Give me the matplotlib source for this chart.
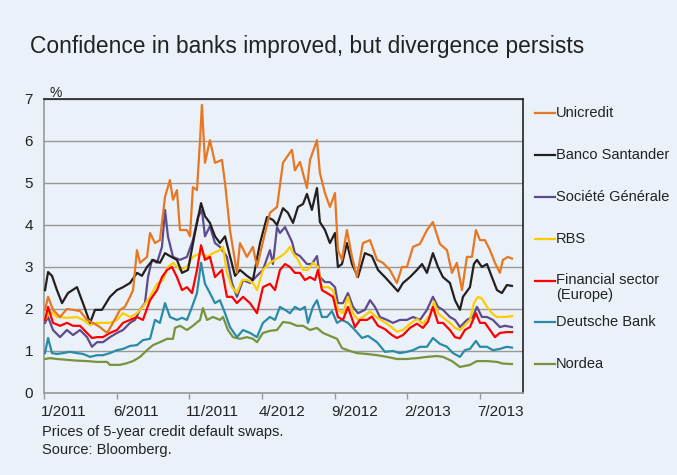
import matplotlib
matplotlib.use("Agg")
import matplotlib.pyplot as plt
from matplotlib.lines import Line2D
from matplotlib.transforms import ScaledTranslation

plt.rcParams['font.family'] = ['Liberation Sans', 'DejaVu Sans']

# x = months since 1 Jan 2011, y = CDS price (%)
unicredit = [(0.07,1.98),(0.28,2.29),(0.62,1.98),(1.10,1.81),(1.58,2.0),(2.00,1.98),(2.48,1.95),(2.96,1.74),(3.37,1.67),(3.85,1.57),
             (4.34,1.43),(4.75,1.67),(5.23,1.98),(5.57,2.05),(5.92,2.29),(6.13,2.45),(6.40,3.4),(6.61,3.1),(7.09,3.24),(7.30,3.81),
             (7.64,3.57),(7.98,3.64),(8.33,4.67),(8.67,5.07),(8.88,4.6),(9.15,4.83),(9.36,3.88),(9.84,3.88),(10.05,3.73),(10.25,4.9),
             (10.53,4.83),(10.74,6.02),(10.87,6.86),(11.08,5.48),(11.42,6.02),(11.77,5.48),(12.25,5.55),(12.46,5.0),(12.80,3.88),(13.28,2.86),
             (13.49,3.57),(13.97,3.24),(14.38,3.48),(14.66,3.0),(15.07,3.6),(15.55,4.29),(16.04,4.43),(16.45,5.48),(16.72,5.62),(17.07,5.79),
             (17.27,5.3),(17.62,5.5),(18.10,4.88),(18.31,5.55),(18.79,6.02),(18.99,5.24),(19.34,4.76),(19.68,4.43),(20.03,4.76),(20.23,3.4),
             (20.51,3.17),(20.85,3.88),(21.20,3.24),(21.54,2.76),(21.95,3.57),(22.44,3.64),(22.92,3.17),(23.33,3.1),(23.81,2.93),(24.29,2.62),
             (24.64,3.0),(24.98,3.0),(25.40,3.48),(25.88,3.55),(26.36,3.88),(26.77,4.07),(27.25,3.55),(27.74,3.4),(28.08,2.86),(28.42,3.1),
             (28.77,2.45),(29.11,3.24),(29.46,3.24),(29.73,3.88),(30.01,3.64),(30.35,3.64),(30.70,3.4),(31.04,3.1),(31.38,2.86),(31.59,3.17),
             (31.93,3.24),(32.21,3.2)]

santander = [(0.07,2.45),(0.28,2.88),(0.55,2.79),(0.89,2.45),(1.24,2.14),(1.65,2.38),(2.27,2.52),(2.68,2.14),(3.17,1.67),(3.51,1.98),
             (3.99,1.98),(4.54,2.29),(5.02,2.45),(5.44,2.52),(5.92,2.62),(6.40,2.86),(6.74,2.79),(7.09,3.0),(7.50,3.17),(7.98,3.1),
             (8.33,3.33),(8.67,3.26),(9.15,3.17),(9.50,2.86),(9.91,2.93),(10.39,3.81),(10.81,4.52),(11.08,4.21),(11.42,4.05),(11.77,3.73),
             (12.11,3.57),(12.46,3.73),(12.80,3.26),(13.15,2.79),(13.49,2.93),(13.97,2.79),(14.38,2.69),(14.87,3.57),(15.35,4.19),(15.76,4.12),
             (16.04,4.0),(16.45,4.4),(16.79,4.29),(17.14,4.05),(17.48,4.43),(17.83,4.5),(18.10,4.74),(18.44,4.36),(18.79,4.88),(18.99,4.07),
             (19.34,3.88),(19.68,3.57),(20.03,3.81),(20.23,3.0),(20.51,3.07),(20.85,3.57),(21.20,3.07),(21.61,2.76),(22.09,3.33),(22.57,3.26),
             (22.99,2.93),(23.47,2.76),(24.02,2.55),(24.36,2.42),(24.71,2.62),(25.19,2.76),(25.67,2.93),(26.02,3.07),(26.36,2.86),(26.77,3.33),
             (27.12,3.0),(27.46,2.76),(27.94,2.62),(28.29,2.21),(28.63,1.98),(28.84,2.29),(29.32,2.52),(29.59,3.07),(29.80,3.17),(30.14,3.0),
             (30.49,3.07),(30.83,2.76),(31.18,2.45),(31.52,2.38),(31.86,2.57),(32.21,2.55)]

societe_generale = [(0.07,1.67),(0.28,1.81),(0.62,1.5),(1.10,1.33),(1.58,1.5),(2.00,1.38),(2.48,1.5),(2.96,1.33),(3.30,1.1),(3.65,1.21),
             (4.06,1.21),(4.54,1.33),(5.02,1.43),(5.44,1.5),(5.92,1.67),(6.26,1.74),(6.61,1.98),(6.95,2.14),(7.16,2.76),(7.43,3.17),
             (7.78,3.1),(8.12,3.48),(8.33,4.36),(8.53,3.73),(8.88,3.24),(9.36,3.17),(9.84,3.24),(10.25,3.64),(10.60,4.19),(10.87,4.36),
             (11.08,3.73),(11.42,3.97),(11.77,3.57),(12.11,3.48),(12.59,3.24),(12.94,2.62),(13.28,2.29),(13.70,2.69),(14.18,2.62),(14.66,2.79),
             (15.07,2.93),(15.55,3.4),(15.76,3.07),(16.04,3.95),(16.24,3.81),(16.59,3.95),(17.07,3.6),(17.27,3.33),(17.62,3.26),(18.10,3.07),
             (18.44,3.07),(18.79,3.26),(18.99,2.76),(19.34,2.64),(19.68,2.64),(20.03,2.52),(20.23,2.14),(20.58,2.14),(20.92,2.38),(21.27,2.05),
             (21.61,1.9),(22.09,1.98),(22.44,2.21),(22.78,2.05),(23.12,1.81),(23.61,1.74),(24.02,1.67),(24.50,1.74),(24.98,1.74),(25.40,1.81),
             (25.88,1.74),(26.36,1.98),(26.77,2.29),(27.12,2.05),(27.46,1.98),(27.94,1.81),(28.29,1.74),(28.63,1.57),(29.11,1.74),(29.52,1.81),
             (29.80,2.05),(30.14,1.81),(30.49,1.81),(30.90,1.74),(31.38,1.57),(31.73,1.6),(32.21,1.57)]

rbs = [(0.07,1.74),(0.41,1.95),(0.89,1.81),(1.58,1.79),(2.27,1.81),(2.68,1.74),(3.17,1.62),(3.65,1.67),(4.06,1.67),(4.54,1.67),
       (5.02,1.74),(5.44,1.9),(5.92,1.81),(6.40,1.9),(6.81,2.05),(7.30,2.29),(7.78,2.6),(8.19,2.69),(8.53,3.0),(8.88,3.1),
       (9.36,2.93),(9.84,3.0),(10.25,3.24),(10.74,3.33),(11.22,3.24),(11.63,3.33),(12.11,3.4),(12.32,3.48),(12.59,2.86),(12.94,2.52),
       (13.28,2.38),(13.63,2.69),(13.97,2.69),(14.38,2.62),(14.66,2.45),(15.07,2.93),(15.55,3.1),(15.90,3.17),(16.24,3.24),(16.59,3.33),
       (16.93,3.48),(17.14,3.33),(17.48,3.17),(17.83,2.93),(18.17,2.93),(18.51,3.1),(18.86,3.0),(19.13,2.52),(19.55,2.52),(19.89,2.45),
       (20.23,1.98),(20.58,1.9),(20.92,2.29),(21.27,1.9),(21.61,1.74),(21.95,1.81),(22.44,1.94),(22.92,1.8),(23.33,1.71),(23.81,1.6),
       (24.29,1.46),(24.71,1.5),(25.19,1.65),(25.67,1.76),(26.08,1.65),(26.57,1.85),(26.84,2.17),(27.12,1.9),(27.46,1.8),(27.94,1.67),
       (28.29,1.55),(28.63,1.5),(28.97,1.62),(29.32,1.74),(29.59,2.14),(29.87,2.29),(30.14,2.25),(30.49,2.05),(30.83,1.9),(31.18,1.81),
       (31.73,1.81),(32.21,1.83)]

financial_sector = [(0.07,1.74),(0.28,2.05),(0.62,1.67),(1.10,1.6),(1.58,1.67),(2.00,1.6),(2.48,1.6),(2.96,1.43),(3.30,1.31),(3.65,1.33),
       (4.06,1.33),(4.54,1.43),(5.02,1.5),(5.44,1.67),(5.92,1.74),(6.40,1.81),(6.81,1.74),(7.30,2.21),(7.78,2.45),(8.12,2.76),
       (8.47,2.93),(8.81,3.0),(9.15,2.76),(9.50,2.45),(9.84,2.52),(10.19,2.38),(10.53,2.93),(10.81,3.52),(11.08,3.17),(11.42,3.24),
       (11.77,2.76),(12.25,2.93),(12.59,2.29),(12.94,2.29),(13.28,2.14),(13.70,2.29),(14.18,2.14),(14.66,1.9),(15.07,2.52),(15.55,2.6),
       (15.90,2.45),(16.24,2.93),(16.59,3.07),(16.93,3.0),(17.27,2.86),(17.62,2.86),(17.96,2.69),(18.31,2.76),(18.65,2.69),(18.86,2.93),
       (19.13,2.45),(19.48,2.38),(19.89,2.29),(20.23,1.81),(20.58,1.74),(20.92,2.05),(21.40,1.57),(21.75,1.74),(22.23,1.74),(22.57,1.82),
       (22.99,1.6),(23.47,1.52),(23.95,1.38),(24.29,1.31),(24.71,1.38),(25.19,1.55),(25.67,1.65),(26.08,1.55),(26.43,1.7),(26.77,2.05),
       (27.12,1.67),(27.46,1.67),(27.94,1.5),(28.29,1.33),(28.63,1.3),(28.97,1.5),(29.32,1.57),(29.73,1.9),(30.01,1.67),(30.35,1.67),
       (30.70,1.5),(31.04,1.33),(31.38,1.43),(31.86,1.45),(32.21,1.45)]

deutsche_bank = [(0.07,0.95),(0.28,1.31),(0.55,0.95),(0.89,0.93),(1.31,0.95),(1.79,0.98),(2.27,0.95),(2.68,0.93),(3.17,0.86),(3.65,0.9),
       (4.06,0.9),(4.54,0.95),(5.02,1.02),(5.44,1.05),(5.92,1.12),(6.40,1.14),(6.81,1.26),(7.30,1.29),(7.64,1.74),(7.98,1.67),
       (8.33,2.14),(8.67,1.81),(9.15,1.74),(9.50,1.79),(9.84,1.74),(10.19,2.05),(10.53,2.38),(10.81,3.1),(11.08,2.6),(11.42,2.38),
       (11.77,2.14),(12.11,2.21),(12.46,1.9),(12.80,1.57),(13.28,1.33),(13.70,1.5),(14.18,1.43),(14.66,1.33),(15.07,1.67),(15.55,1.81),
       (15.90,1.74),(16.24,2.05),(16.59,1.98),(16.93,1.9),(17.27,2.05),(17.62,1.98),(17.96,2.05),(18.17,1.67),(18.51,2.05),(18.79,2.21),
       (19.13,1.81),(19.48,1.81),(19.82,1.95),(20.17,1.67),(20.51,1.74),(20.92,1.67),(21.40,1.5),(21.89,1.31),(22.30,1.36),(22.92,1.21),
       (23.47,0.98),(24.02,1.0),(24.50,0.95),(24.98,0.98),(25.40,1.02),(25.88,1.1),(26.36,1.1),(26.77,1.31),(27.25,1.17),(27.74,1.1),
       (28.15,0.95),(28.63,0.86),(28.97,1.02),(29.32,1.05),(29.73,1.24),(30.01,1.1),(30.49,1.1),(30.90,1.02),(31.38,1.05),(31.86,1.1),
       (32.21,1.08)]

nordea = [(0.07,0.81),(0.41,0.83),(0.89,0.81),(1.58,0.79),(2.27,0.77),(2.96,0.76),(3.65,0.74),(4.34,0.74),(4.54,0.67),(5.23,0.67),
       (5.71,0.71),(6.13,0.76),(6.61,0.86),(7.09,1.02),(7.50,1.14),(7.98,1.21),(8.47,1.29),(8.88,1.29),(9.02,1.55),(9.36,1.6),
       (9.84,1.5),(10.25,1.6),(10.74,1.74),(10.94,2.02),(11.22,1.74),(11.63,1.81),(12.11,1.74),(12.32,1.81),(12.66,1.5),(13.01,1.33),
       (13.49,1.29),(13.97,1.33),(14.38,1.29),(14.66,1.21),(15.07,1.43),(15.55,1.48),(16.04,1.5),(16.45,1.69),(16.93,1.67),(17.41,1.6),
       (17.83,1.6),(18.31,1.5),(18.79,1.55),(19.20,1.43),(19.68,1.36),(20.17,1.29),(20.51,1.07),(21.06,1.0),(21.54,0.95),(22.23,0.93),
       (22.92,0.9),(23.61,0.86),(24.29,0.81),(24.98,0.81),(25.67,0.83),(26.36,0.86),(27.05,0.88),(27.46,0.86),(28.08,0.76),(28.63,0.62),
       (29.32,0.67),(29.80,0.76),(30.49,0.76),(31.18,0.74),(31.59,0.7),(32.21,0.69)]

series_names = ["Unicredit", "Banco Santander", "Société Générale", "RBS",
                "Financial sector\n(Europe)", "Deutsche Bank", "Nordea"]
series_data = [unicredit, santander, societe_generale, rbs, financial_sector, deutsche_bank, nordea]
series_colors = ["#E87722", "#231F20", "#5E4B8C", "#FFCC00", "#FF0000", "#2A8BA6", "#77933C"]

x_tick_pos = [0, 5, 10, 15, 20, 25, 30]
x_tick_labels = ["1/2011", "6/2011", "11/2011", "4/2012", "9/2012", "2/2013", "7/2013"]
y_ticks = [0, 1, 2, 3, 4, 5, 6, 7]

bg = "#EAF1F8"
fig = plt.figure(figsize=(6.77, 4.75), dpi=100, facecolor=bg)
ax = fig.add_axes([44/677, 1-393/475, (522.7-44)/677, (393-99)/475], facecolor=bg)

draw_order = [6, 5, 2, 3, 4, 1, 0]
for i in draw_order:
    xs = [p[0] for p in series_data[i]]
    ys = [p[1] for p in series_data[i]]
    ax.plot(xs, ys, color=series_colors[i], lw=1.6, solid_joinstyle='round', zorder=3)

ax.set_xlim(0, 32.95)
ax.set_ylim(0, 7)
ax.set_yticks(y_ticks)
ax.set_yticklabels([str(v) for v in y_ticks], fontsize=11, color="#222222")
ax.set_xticks(x_tick_pos)
ax.set_xticklabels(x_tick_labels, fontsize=11, color="#222222")
ax.tick_params(axis='y', length=0, pad=8)
ax.tick_params(axis='x', length=4, width=1, color="#999999", pad=5, direction='out')
offset = ScaledTranslation(-3/100, 0, fig.dpi_scale_trans)
for lbl in ax.get_xticklabels():
    lbl.set_horizontalalignment('left')
    lbl.set_transform(lbl.get_transform() + offset)
ax.grid(axis='y', color="#999999", lw=1, zorder=1)
ax.set_axisbelow(True)
for s in ['left', 'bottom']:
    ax.spines[s].set_color("#999999")
    ax.spines[s].set_linewidth(1.2)
for s in ['top', 'right']:
    ax.spines[s].set_color("#222222")
    ax.spines[s].set_linewidth(1.2)

fig.text(30/677, 1-47/475, "Confidence in banks improved, but divergence persists",
         fontsize=16.4, color="#222222", va='center', ha='left')
fig.text(50/677, 1-93/475, "%", fontsize=10, color="#222222", va='center', ha='left')
fig.text(42/677, 1-432/475, "Prices of 5-year credit default swaps.", fontsize=10.5, color="#222222", va='center')
fig.text(42/677, 1-450/475, "Source: Bloomberg.", fontsize=10.5, color="#222222", va='center')

legend_y = [113, 155, 197, 239, 281, 322, 364]
for name, col, ly in zip(series_names, series_colors, legend_y):
    fig.add_artist(Line2D([535/677, 555/677], [1-ly/475, 1-ly/475], color=col, lw=1.6))
    if '\n' in name:
        fig.text(556/677, 1-(ly-8)/475, name, fontsize=10.5, color="#222222", va='top', ha='left', linespacing=1.1)
    else:
        fig.text(556/677, 1-ly/475, name, fontsize=10.5, color="#222222", va='center', ha='left')

fig.savefig("out.png", dpi=100, facecolor=bg)
